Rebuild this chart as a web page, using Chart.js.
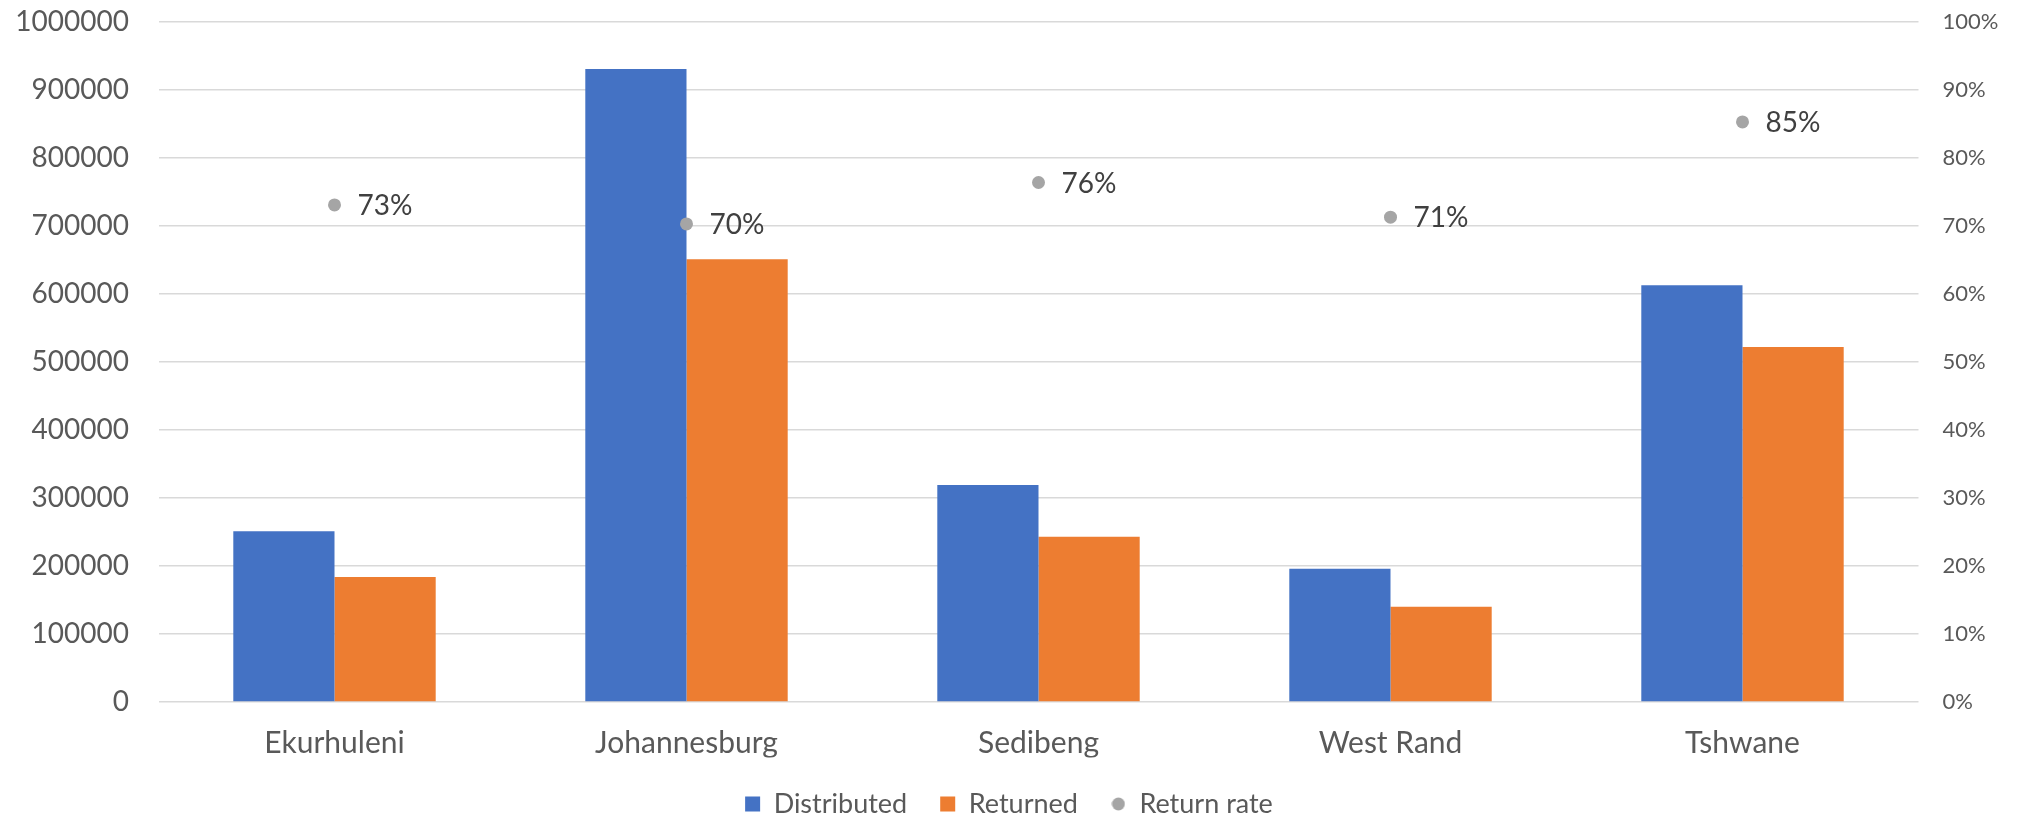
<!DOCTYPE html>
<html>
<head>
<meta charset="utf-8">
<title>Distributed vs Returned</title>
<script src="https://cdn.jsdelivr.net/npm/chart.js@4.4.1/dist/chart.umd.min.js"></script>
<style>
  html, body { margin: 0; padding: 0; background: #fff; }
  #wrap { width: 2018px; height: 819px; }
</style>
</head>
<body>
<div id="wrap"><canvas id="chart" width="2018" height="819"></canvas></div>
<script>
// values
const regions = ['Ekurhuleni', 'Johannesburg', 'Sedibeng', 'West Rand', 'Tshwane'];
const distributed = [251000, 931000, 319000, 196000, 613000];
const returned = [184000, 651000, 243000, 140000, 522000];
const returnRate = [0.731, 0.703, 0.764, 0.713, 0.853];
const countTicks = [0, 100000, 200000, 300000, 400000, 500000, 600000, 700000, 800000, 900000, 1000000];
const rateTicks = [0, 0.1, 0.2, 0.3, 0.4, 0.5, 0.6, 0.7, 0.8, 0.9, 1];

const BLUE = '#4472C4';
const ORANGE = '#ED7D31';
const GRAY = '#A5A5A5';

Chart.defaults.font.family = 'Lato, "Open Sans", sans-serif';
Chart.defaults.color = '#595959';

// small round marker for the legend entry of the rate series
const dot = document.createElement('canvas');
dot.width = 14; dot.height = 14;
const dctx = dot.getContext('2d');
dctx.fillStyle = GRAY;
dctx.beginPath(); dctx.arc(7, 7, 6.5, 0, Math.PI * 2); dctx.fill();

// percent labels next to the rate markers
const rateLabelPlugin = {
  id: 'rateLabels',
  afterDatasetsDraw(chart) {
    const meta = chart.getDatasetMeta(2);
    const ctx = chart.ctx;
    ctx.save();
    ctx.font = '28px ' + Chart.defaults.font.family;
    ctx.fillStyle = '#404040';
    ctx.textAlign = 'left';
    ctx.textBaseline = 'middle';
    meta.data.forEach((pt, i) => {
      ctx.fillText(Math.round(returnRate[i] * 100) + '%', pt.x + 23, pt.y + 1);
    });
    ctx.restore();
  }
};

// keep the top gridline where the reference has it
const fixVertical = (s, w) => { s.width = w; s.paddingTop = 0; s.paddingBottom = 0; };

new Chart(document.getElementById('chart').getContext('2d'), {
  type: 'bar',
  data: {
    labels: regions,
    datasets: [
      { label: 'Distributed', data: distributed, backgroundColor: BLUE, yAxisID: 'y', order: 1,
        categoryPercentage: 0.575, barPercentage: 1 },
      { label: 'Returned', data: returned, backgroundColor: ORANGE, yAxisID: 'y', order: 1,
        categoryPercentage: 0.575, barPercentage: 1 },
      { type: 'line', label: 'Return rate', data: returnRate, yAxisID: 'y1', order: 0,
        showLine: false, pointRadius: 6.5, pointHoverRadius: 6.5, pointBorderWidth: 0,
        backgroundColor: GRAY, borderColor: GRAY }
    ]
  },
  options: {
    responsive: false,
    animation: false,
    events: [],
    layout: { padding: { top: 22, left: 0, right: 0, bottom: 0 }, autoPadding: false },
    plugins: {
      tooltip: { enabled: false },
      legend: {
        position: 'bottom',
        maxHeight: 61.5,
        labels: {
          usePointStyle: true,
          boxWidth: 15,
          boxHeight: 15,
          padding: 33,
          color: '#595959',
          font: { size: 27 },
          generateLabels(chart) {
            const items = Chart.defaults.plugins.legend.labels.generateLabels(chart);
            items.sort((a, b) => a.datasetIndex - b.datasetIndex);
            items.forEach(it => {
              it.pointStyle = it.datasetIndex === 2 ? dot : 'rect';
              it.lineWidth = 0;
            });
            return items;
          }
        }
      }
    },
    scales: {
      x: {
        grid: { display: false, drawTicks: false },
        border: { display: false },
        ticks: { font: { size: 30 }, padding: 23.5, color: '#595959' },
        afterFit: s => { s.height = 55.5; }
      },
      y: {
        position: 'left',
        min: 0, max: 1000000,
        afterBuildTicks: s => { s.ticks = countTicks.map(v => ({ value: v })); },
        grid: { color: '#D9D9D9', lineWidth: 1.5, drawTicks: false },
        border: { display: false },
        ticks: { font: { size: 28 }, padding: 29.5, color: '#595959', callback: v => String(v) },
        afterFit: s => fixVertical(s, 158.5)
      },
      y1: {
        position: 'right',
        min: 0, max: 1,
        afterBuildTicks: s => { s.ticks = rateTicks.map(v => ({ value: v })); },
        grid: { display: false, drawTicks: false },
        border: { display: false },
        ticks: { font: { size: 22 }, padding: 24, color: '#595959',
                 callback: v => Math.round(v * 100) + '%' },
        afterFit: s => fixVertical(s, 99.5)
      }
    }
  },
  plugins: [rateLabelPlugin]
});
</script>
</body>
</html>
